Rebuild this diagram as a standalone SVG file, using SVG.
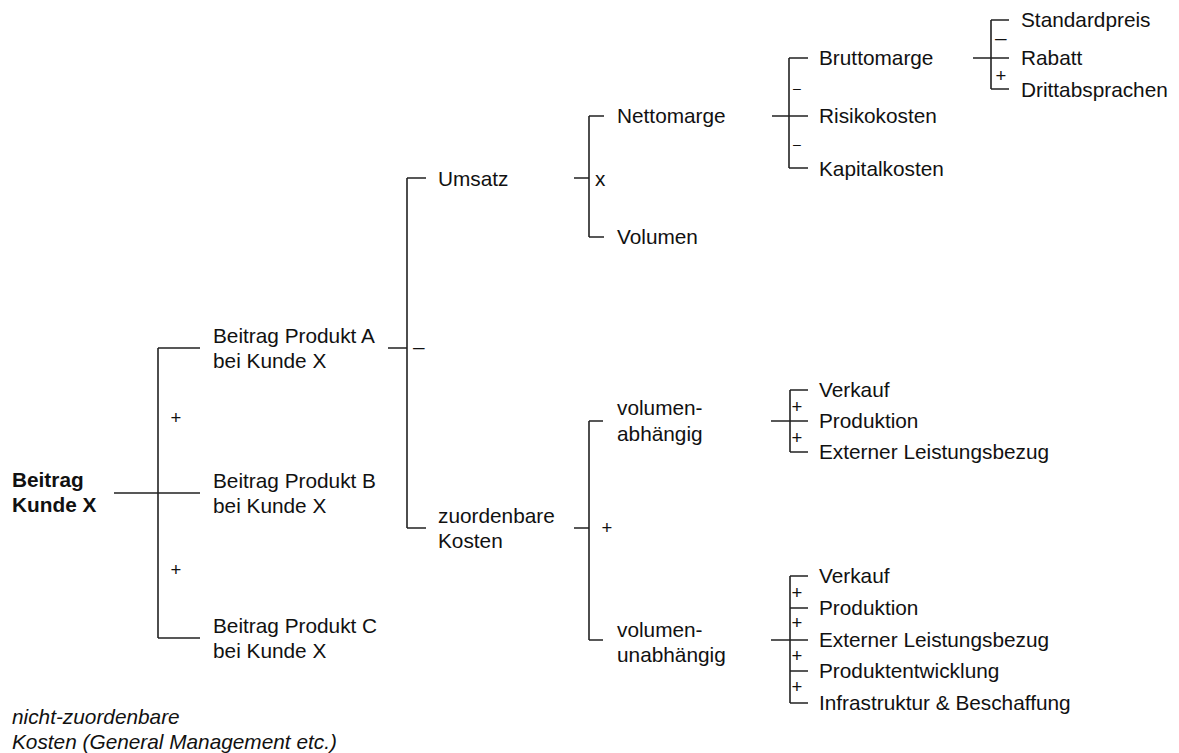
<svg xmlns="http://www.w3.org/2000/svg" width="1179" height="753" viewBox="0 0 1179 753">
<style>
  .t{font-family:"Liberation Sans",Arial,sans-serif;font-size:20.8px;fill:#111}
  .b{font-weight:bold}
  .i{font-style:italic}
  .op{font-family:"Liberation Sans",Arial,sans-serif;font-size:18.5px;fill:#111}
  .c{stroke:#222;stroke-width:1.6;fill:none}
</style>
<rect width="1179" height="753" fill="#fff"/>
<g id="connectors" class="c">
  <path d="M114 493H200M158 348V638M158 348H200M158 638H200"/>
  <path d="M388 348H407M407 178V528M407 178H426M407 528H426"/>
  <path d="M574 178H589M589 116V237M589 116H604M589 237H604"/>
  <path d="M574 528H589M589 421V640M589 421H603M589 640H603"/>
  <path d="M772 116H789M789 58V168M789 58H808M789 116H808M789 168H808"/>
  <path d="M973 58H991M991 20V89M991 20H1009M991 58H1009M991 89H1009"/>
  <path d="M771 421H790M790 390V452M790 390H808M790 421H808M790 452H808"/>
  <path d="M771 640H790M790 576V703M790 576H808M790 608H808M790 640H808M790 671H808M790 703H808"/>
</g>
<g id="operators">
  <text class="op" x="176" y="424" text-anchor="middle">+</text>
  <text class="op" x="176" y="576" text-anchor="middle">+</text>
  <text class="t" x="413" y="354">–</text>
  <text class="t" x="595" y="186">x</text>
  <text class="op" x="607" y="534" text-anchor="middle">+</text>
  <text class="t" x="793" y="93" style="font-size:14px">–</text>
  <text class="t" x="793" y="149" style="font-size:14px">–</text>
  <text class="t" x="995" y="45">–</text>
  <text class="op" x="1001" y="82" text-anchor="middle">+</text>
  <text class="op" x="797" y="413" text-anchor="middle">+</text>
  <text class="op" x="797" y="444" text-anchor="middle">+</text>
  <text class="op" x="797" y="599" text-anchor="middle">+</text>
  <text class="op" x="797" y="629" text-anchor="middle">+</text>
  <text class="op" x="797" y="662" text-anchor="middle">+</text>
  <text class="op" x="797" y="693" text-anchor="middle">+</text>
</g>
<g id="beitrag-kunde"><text class="t b" x="12" y="487">Beitrag</text><text class="t b" x="12" y="512">Kunde X</text></g>
<g id="produkt-a"><text class="t" x="213" y="343">Beitrag Produkt A</text><text class="t" x="213" y="368">bei Kunde X</text></g>
<g id="produkt-b"><text class="t" x="213" y="488">Beitrag Produkt B</text><text class="t" x="213" y="513">bei Kunde X</text></g>
<g id="produkt-c"><text class="t" x="213" y="633">Beitrag Produkt C</text><text class="t" x="213" y="658">bei Kunde X</text></g>
<g id="umsatz"><text class="t" x="438" y="186">Umsatz</text></g>
<g id="zuordenbare-kosten"><text class="t" x="438" y="523">zuordenbare</text><text class="t" x="438" y="548">Kosten</text></g>
<g id="nettomarge"><text class="t" x="617" y="123">Nettomarge</text></g>
<g id="volumen"><text class="t" x="617" y="244">Volumen</text></g>
<g id="volumenabhaengig"><text class="t" x="617" y="415">volumen-</text><text class="t" x="617" y="441">abhängig</text></g>
<g id="volumenunabhaengig"><text class="t" x="617" y="637">volumen-</text><text class="t" x="617" y="662">unabhängig</text></g>
<g id="bruttomarge"><text class="t" x="819" y="65">Bruttomarge</text></g>
<g id="risikokosten"><text class="t" x="819" y="123">Risikokosten</text></g>
<g id="kapitalkosten"><text class="t" x="819" y="176">Kapitalkosten</text></g>
<g id="standardpreis"><text class="t" x="1021" y="27">Standardpreis</text></g>
<g id="rabatt"><text class="t" x="1021" y="65">Rabatt</text></g>
<g id="drittabsprachen"><text class="t" x="1021" y="97">Drittabsprachen</text></g>
<g id="va-verkauf"><text class="t" x="819" y="397">Verkauf</text></g>
<g id="va-produktion"><text class="t" x="819" y="428">Produktion</text></g>
<g id="va-extern"><text class="t" x="819" y="459">Externer Leistungsbezug</text></g>
<g id="vu-verkauf"><text class="t" x="819" y="583">Verkauf</text></g>
<g id="vu-produktion"><text class="t" x="819" y="615">Produktion</text></g>
<g id="vu-extern"><text class="t" x="819" y="647">Externer Leistungsbezug</text></g>
<g id="vu-produktentwicklung"><text class="t" x="819" y="678">Produktentwicklung</text></g>
<g id="vu-infrastruktur"><text class="t" x="819" y="710">Infrastruktur &amp; Beschaffung</text></g>
<g id="nicht-zuordenbar"><text class="t i" x="12" y="724">nicht-zuordenbare</text><text class="t i" x="12" y="749">Kosten (General Management etc.)</text></g>
</svg>
